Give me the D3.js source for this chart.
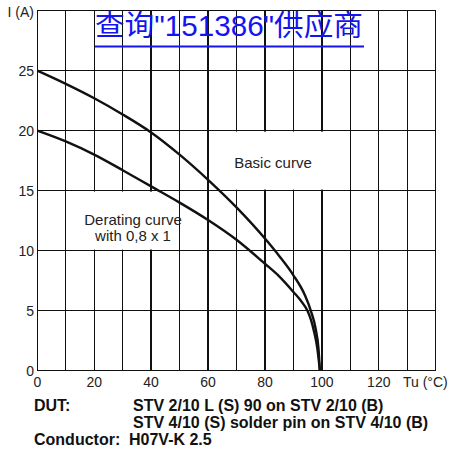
<!DOCTYPE html>
<html>
<head>
<meta charset="utf-8">
<script src="https://cdn.jsdelivr.net/npm/d3@7"></script>
<style>
  body { margin: 0; background: #fff; }
  svg { display: block; font-family: "Liberation Sans", Arial, sans-serif; }
  .grid line { stroke: #111; stroke-width: 1.3; shape-rendering: crispEdges; }
  .tick { font-size: 14px; fill: #222; }
  .curve { fill: none; stroke: #111; stroke-width: 2.4; }
  .label { font-size: 15px; fill: #222; text-anchor: middle; }
  .note { font-size: 16px; font-weight: bold; fill: #111; }
</style>
</head>
<body>
<div id="chart"></div>
<script>
let w = 452
let h = 459

// temperature Tu (°C) -> current I (A)
let basicCurve = [
  [0, 25], [10, 23.9], [20, 22.7], [30, 21.35], [40, 19.85], [50, 18],
  [60, 15.9], [70, 13.6], [80, 11], [85, 9.55], [90, 7.94], [94, 6.3],
  [96.1, 5], [97.8, 3.5], [98.8, 1.85], [99.3, 0]
]
let deratingCurve = [
  [0, 20], [10, 19.1], [20, 18], [30, 16.7], [40, 15.35], [50, 14],
  [60, 12.55], [70, 10.9], [80, 8.9], [85, 7.85], [90, 6.55], [92.5, 5.85],
  [94.9, 5], [96.2, 4.2], [97.3, 3.2], [98.4, 1.85], [99.3, 0]
]

let xGrid = d3.range(0, 141, 10)
let yGrid = [0, 5, 10, 15, 20, 25, 30]
let xTickLabels = [0, 20, 40, 60, 80, 100, 120]
let yTickLabels = [0, 5, 10, 15, 20, 25]
let noteLines = [
  { head: "DUT:", text: "STV 2/10 L (S) 90 on STV 2/10 (B)" },
  { head: "", text: "STV 4/10 (S) solder pin on STV 4/10 (B)" },
  { head: "Conductor:", text: "H07V-K 2.5" }
]

let svg = d3.select("#chart")
  .append("svg")
  .attr("width", w)
  .attr("height", h)

let x = d3.scaleLinear().domain([0, 140]).range([37.3, 435.7])
let y = d3.scaleLinear().domain([0, 30]).range([370.5, 10.7])

// grid
let grid = svg.append("g").attr("class", "grid")
grid.selectAll(".v")
  .data(xGrid)
  .join("line")
  .attr("class", "v")
  .attr("x1", d => x(d)).attr("x2", d => x(d))
  .attr("y1", y(30)).attr("y2", y(0))
grid.selectAll(".h")
  .data(yGrid)
  .join("line")
  .attr("class", "h")
  .attr("x1", x(0)).attr("x2", x(140))
  .attr("y1", d => y(d)).attr("y2", d => y(d))

// white boxes behind the two labels (they hide some grid lines)
svg.append("rect")
  .attr("x", x(62)).attr("y", y(20) + 1)
  .attr("width", x(108) - x(62)).attr("height", y(15) - y(20) - 2)
  .attr("fill", "#fff")
svg.append("rect")
  .attr("x", x(12)).attr("y", y(15) + 1)
  .attr("width", x(46) - x(12)).attr("height", y(10) - y(15) - 2)
  .attr("fill", "#fff")

// curves
let line = d3.line()
  .x(d => x(d[0]))
  .y(d => y(d[1]))
  .curve(d3.curveMonotoneX)

svg.append("path").datum(basicCurve).attr("class", "curve").attr("d", line)
svg.append("path").datum(deratingCurve).attr("class", "curve").attr("d", line)

// labels in the plot
svg.append("text").attr("class", "label")
  .attr("x", 273).attr("y", 167.5).text("Basic curve")
svg.append("text").attr("class", "label")
  .attr("x", 133).attr("y", 225).text("Derating curve")
svg.append("text").attr("class", "label")
  .attr("x", 133).attr("y", 240.5).text("with 0,8 x 1")

// tick labels
svg.selectAll(".ytick")
  .data(yTickLabels)
  .join("text")
  .attr("class", "tick ytick")
  .attr("x", 34)
  .attr("y", d => y(d) + 5)
  .attr("text-anchor", "end")
  .text(d => d)
svg.selectAll(".xtick")
  .data(xTickLabels)
  .join("text")
  .attr("class", "tick xtick")
  .attr("x", d => x(d))
  .attr("y", 387)
  .attr("text-anchor", "middle")
  .text(d => d)

svg.append("text").attr("class", "tick")
  .attr("x", 34).attr("y", 16.5).attr("text-anchor", "end")
  .text("I (A)")
svg.append("text").attr("class", "tick")
  .attr("x", 403).attr("y", 387)
  .text("Tu (°C)")

// footnote
let notes = svg.selectAll(".noteRow")
  .data(noteLines)
  .join("g")
  .attr("class", "noteRow")
  .attr("transform", (d, i) => "translate(0," + (411 + i * 16.8) + ")")
notes.append("text").attr("class", "note").attr("x", 34).text(d => d.head)
notes.append("text").attr("class", "note")
  .attr("x", (d, i) => i === 2 ? 129 : 133)
  .text(d => d.text)

// blue watermark link text on top
svg.append("text")
  .attr("x", 95).attr("y", 35.5)
  .attr("font-size", 29)
  .attr("fill", "#1414f0")
  .attr("textLength", 268)
  .attr("lengthAdjust", "spacingAndGlyphs")
  .style("font-family", "'Liberation Sans', 'Noto Sans CJK SC', sans-serif")
  .text("查询\"151386\"供应商")
svg.append("line")
  .attr("x1", 95).attr("x2", 364)
  .attr("y1", 46.5).attr("y2", 46.5)
  .attr("stroke", "#1414f0")
  .attr("stroke-width", 2)
</script>
</body>
</html>
